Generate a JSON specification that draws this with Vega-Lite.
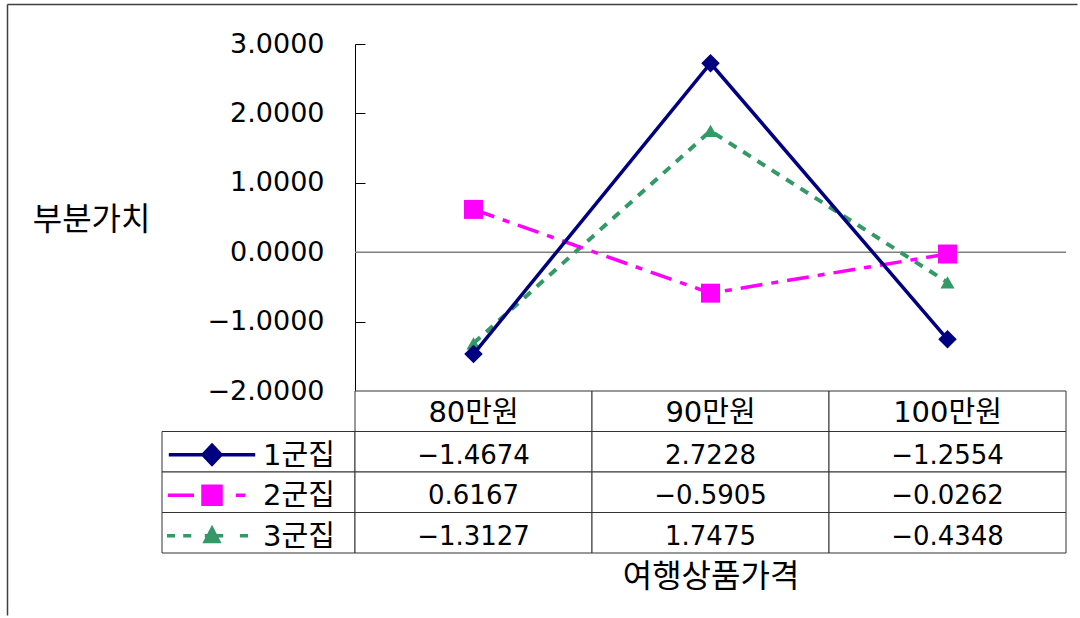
{
  "$schema": "https://vega.github.io/schema/vega-lite/v6.json",
  "background": "white",
  "padding": {"left": 7, "top": 4, "right": 0, "bottom": 0},
  "columns": 2,
  "spacing": 0,
  "bounds": "flush",
  "align": "each",
  "datasets": {
    "parts": [
      {"price": "80만원", "group": "1군집", "value": -1.4674},
      {"price": "90만원", "group": "1군집", "value": 2.7228},
      {"price": "100만원", "group": "1군집", "value": -1.2554},
      {"price": "80만원", "group": "2군집", "value": 0.6167},
      {"price": "90만원", "group": "2군집", "value": -0.5905},
      {"price": "100만원", "group": "2군집", "value": -0.0262},
      {"price": "80만원", "group": "3군집", "value": -1.3127},
      {"price": "90만원", "group": "3군집", "value": 1.7475},
      {"price": "100만원", "group": "3군집", "value": -0.4348}
    ]
  },
  "config": {
    "font": "DejaVu Sans, Noto Sans CJK KR",
    "view": {"stroke": null},
    "axis": {"labelColor": "#000000", "titleColor": "#000000", "titleFontWeight": "normal"},
    "text": {"color": "#000000"}
  },
  "concat": [
    {
      "width": 193,
      "height": 347,
      "data": {"values": []},
      "mark": "point",
      "encoding": {
        "x": {
          "field": "u",
          "type": "quantitative",
          "scale": {"domain": [0, 1], "range": [-155, 915]},
          "axis": {"orient": "top", "offset": 40, "ticks": false, "labels": false, "grid": false, "title": null, "domainColor": "#404040", "domainWidth": 1.5}
        },
        "y": {
          "field": "v",
          "type": "quantitative",
          "scale": {"domain": [0, 1], "range": [571, -40]},
          "axis": {"orient": "left", "offset": 155, "ticks": false, "labels": false, "grid": false, "title": null, "domainColor": "#404040", "domainWidth": 1.5}
        }
      }
    },
    {
      "width": 711,
      "height": 347,
      "data": {"name": "parts"},
      "layer": [
        {
          "data": {"values": [{"level": 0}]},
          "mark": {"type": "rule", "color": "#808080", "strokeWidth": 1.5},
          "encoding": {
            "y": {
              "field": "level",
              "type": "quantitative",
              "scale": {"domain": [-2, 3], "nice": false, "zero": false},
              "axis": {
                "values": [-2, -1, 0, 1, 2, 3],
                "format": ".4f",
                "grid": false,
                "tickSize": -10,
                "tickColor": "#000000",
                "domainColor": "#000000",
                "labelPadding": 41,
                "labelFontSize": 27,
                "labelOverlap": false,
                "title": "부분가치",
                "titleFontSize": 32,
                "titleAngle": 0,
                "titleAlign": "right",
                "titleBaseline": "middle",
                "titleX": -205,
                "titleY": 175
              }
            }
          }
        },
        {
          "transform": [{"filter": "datum.group === '3군집'"}],
          "mark": {"type": "line", "color": "#339966", "strokeWidth": 4, "strokeDash": [9, 8]},
          "encoding": {
            "x": {"field": "price", "type": "nominal", "sort": ["80만원", "90만원", "100만원"], "axis": null},
            "y": {"field": "value", "type": "quantitative"}
          }
        },
        {
          "transform": [{"filter": "datum.group === '3군집'"}],
          "mark": {"type": "point", "shape": "triangle-up", "filled": true, "color": "#339966", "size": 200, "opacity": 1},
          "encoding": {
            "x": {"field": "price", "type": "nominal", "sort": ["80만원", "90만원", "100만원"], "axis": null},
            "y": {"field": "value", "type": "quantitative"}
          }
        },
        {
          "transform": [{"filter": "datum.group === '2군집'"}],
          "mark": {"type": "line", "color": "#FF00FF", "strokeWidth": 3.5, "strokeDash": [22, 9, 7, 9]},
          "encoding": {
            "x": {"field": "price", "type": "nominal", "sort": ["80만원", "90만원", "100만원"], "axis": null},
            "y": {"field": "value", "type": "quantitative"}
          }
        },
        {
          "transform": [{"filter": "datum.group === '2군집'"}],
          "mark": {"type": "point", "shape": "square", "filled": true, "color": "#FF00FF", "size": 361, "opacity": 1},
          "encoding": {
            "x": {"field": "price", "type": "nominal", "sort": ["80만원", "90만원", "100만원"], "axis": null},
            "y": {"field": "value", "type": "quantitative"}
          }
        },
        {
          "transform": [{"filter": "datum.group === '1군집'"}],
          "mark": {"type": "line", "color": "#000080", "strokeWidth": 3.5},
          "encoding": {
            "x": {"field": "price", "type": "nominal", "sort": ["80만원", "90만원", "100만원"], "axis": null},
            "y": {"field": "value", "type": "quantitative"}
          }
        },
        {
          "transform": [{"filter": "datum.group === '1군집'"}],
          "mark": {"type": "point", "shape": "diamond", "filled": true, "color": "#000080", "size": 340, "opacity": 1},
          "encoding": {
            "x": {"field": "price", "type": "nominal", "sort": ["80만원", "90만원", "100만원"], "axis": null},
            "y": {"field": "value", "type": "quantitative"}
          }
        }
      ]
    },
    {
      "width": 193,
      "height": 162,
      "data": {"name": "parts"},
      "transform": [{"aggregate": [{"op": "count", "as": "n"}], "groupby": ["group"]}],
      "encoding": {
        "y": {
          "field": "group",
          "type": "nominal",
          "scale": {"type": "band", "domain": ["구분", "1군집", "2군집", "3군집"], "paddingInner": 0, "paddingOuter": 0},
          "axis": null
        }
      },
      "layer": [
        {"mark": {"type": "rect", "fill": "white", "stroke": "#333333", "strokeWidth": 1}},
        {
          "mark": {"type": "point", "filled": true, "size": 324, "strokeWidth": 3.5, "opacity": 1, "xOffset": -46.5, "yOffset": 3},
          "encoding": {
            "shape": {
              "field": "group",
              "type": "nominal",
              "scale": {
                "domain": ["1군집", "2군집", "3군집"],
                "range": [
                  "M-4.8,0H4.8M0,-1.05L1,0L0,1.05L-1,0Z",
                  "M-4.9,0H-2M2.65,0H3.7M-1,-1H1V1H-1Z",
                  "M-5,0H-4.1M-3.2,0H-2.3M-0.8,0H1.25M3.1,0H4M0,-0.8L0.75,0.65L-0.75,0.65Z"
                ]
              },
              "legend": null
            },
            "fill": {
              "field": "group",
              "type": "nominal",
              "scale": {"domain": ["1군집", "2군집", "3군집"], "range": ["#000080", "#FF00FF", "#339966"]},
              "legend": null
            },
            "stroke": {
              "field": "group",
              "type": "nominal",
              "scale": {"domain": ["1군집", "2군집", "3군집"], "range": ["#000080", "#FF00FF", "#339966"]},
              "legend": null
            }
          }
        },
        {
          "mark": {"type": "text", "align": "left", "baseline": "middle", "fontSize": 29, "xOffset": 4.5, "dy": 4},
          "encoding": {"text": {"field": "group", "type": "nominal"}}
        }
      ]
    },
    {
      "width": 711,
      "height": 162,
      "layer": [
        {
          "data": {"name": "parts"},
          "transform": [{"aggregate": [{"op": "count", "as": "n"}], "groupby": ["price"]}],
          "mark": {"type": "rect", "fill": "white", "stroke": "#333333", "strokeWidth": 1},
          "encoding": {
            "x": {
              "field": "price",
              "type": "nominal",
              "sort": ["80만원", "90만원", "100만원"],
              "scale": {"type": "band", "paddingInner": 0, "paddingOuter": 0},
              "axis": {
                "orient": "bottom",
                "title": "여행상품가격",
                "labels": false,
                "ticks": false,
                "domain": false,
                "titleFontSize": 32,
                "titlePadding": 8
              }
            },
            "y": {
              "datum": "구분",
              "type": "nominal",
              "scale": {"type": "band", "domain": ["구분", "1군집", "2군집", "3군집"], "paddingInner": 0, "paddingOuter": 0},
              "axis": null
            }
          }
        },
        {
          "data": {"name": "parts"},
          "mark": {"type": "rect", "fill": "white", "stroke": "#333333", "strokeWidth": 1},
          "encoding": {
            "x": {"field": "price", "type": "nominal", "sort": ["80만원", "90만원", "100만원"]},
            "y": {"field": "group", "type": "nominal"}
          }
        },
        {
          "data": {"name": "parts"},
          "transform": [{"aggregate": [{"op": "count", "as": "n"}], "groupby": ["price"]}],
          "mark": {"type": "text", "baseline": "middle", "fontSize": 29, "dy": 2},
          "encoding": {
            "x": {"field": "price", "type": "nominal", "sort": ["80만원", "90만원", "100만원"]},
            "y": {"datum": "구분", "type": "nominal"},
            "text": {"field": "price", "type": "nominal"}
          }
        },
        {
          "data": {"name": "parts"},
          "mark": {"type": "text", "baseline": "middle", "fontSize": 26, "dy": 4},
          "encoding": {
            "x": {"field": "price", "type": "nominal", "sort": ["80만원", "90만원", "100만원"]},
            "y": {"field": "group", "type": "nominal"},
            "text": {"field": "value", "type": "quantitative", "format": ".4f"}
          }
        }
      ]
    }
  ]
}
